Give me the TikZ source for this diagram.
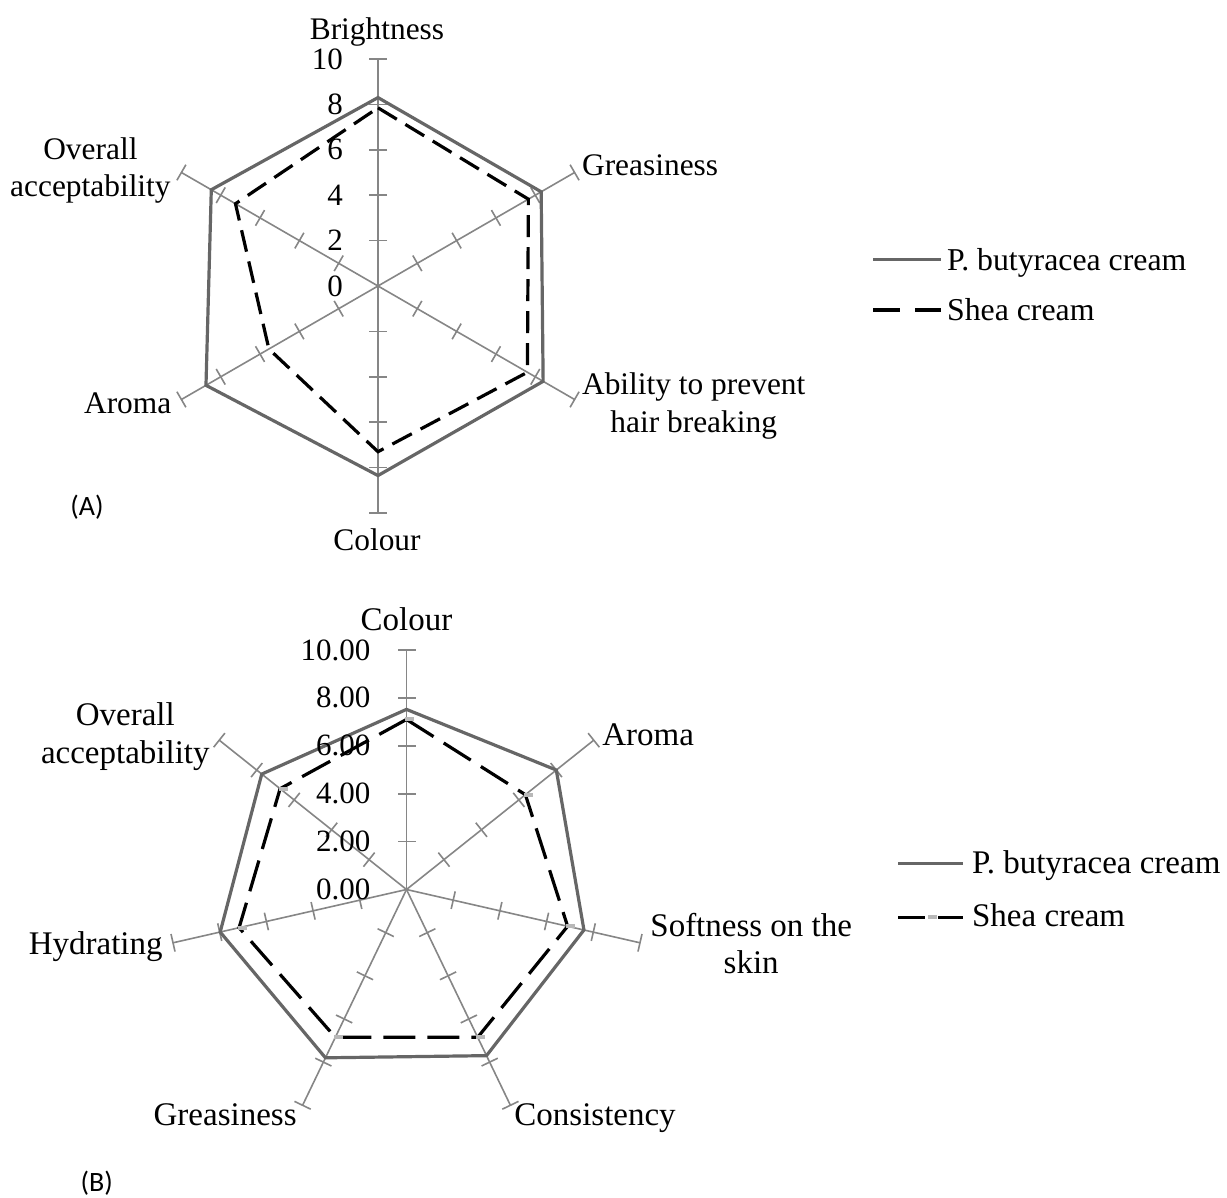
\documentclass[tikz,border=0pt]{standalone}
\usepackage{fontspec}
\setmainfont{Liberation Serif}
\newfontfamily\panelfont{Carlito}
\usepackage{tikz}
\usetikzlibrary{
  positioning,
  calc
}
\definecolor{axisgray}{RGB}{134,134,134}
\definecolor{butygray}{RGB}{102,102,102}
\definecolor{markgray}{RGB}{184,184,184}

\tikzset{
  axisline/.style={draw=axisgray, line width=0.8pt},
  butyline/.style={draw=butygray, line width=1.6pt},
  shealineA/.style={draw=black, line width=1.6pt, dash pattern=on 11pt off 5pt},
  shealineB/.style={draw=black, line width=1.6pt, dash pattern=on 16pt off 6pt},
  catlabel/.style={font=\fontsize{15.7}{18.75}\selectfont, inner sep=0pt, align=center},
  catlabelB/.style={font=\fontsize{16.5}{18.6}\selectfont, inner sep=0pt, align=center},
  ticklabel/.style={font=\fontsize{15.5}{18.75}\selectfont, inner sep=0pt, anchor=east},
  sheamark/.style={fill=markgray, minimum width=4.5pt, minimum height=2pt, inner sep=0pt},
  panellabel/.style={font=\panelfont\fontsize{14}{16}\selectfont, inner sep=0pt}
}

\begin{document}
\begin{tikzpicture}[x=0.5pt, y=-0.5pt]
  \useasboundingbox (0,0) rectangle (1227,1198);

  % (A) hexagonal chart
  \begin{scope}[shift={(378,286)}]
    \foreach \k in {0,...,5}{
      \pgfmathsetmacro{\a}{60*\k-90}
      \draw[axisline] (0,0) -- ({227*cos(\a)},{227*sin(\a)});
      \foreach \v in {2,4,...,10}
        \draw[axisline] ({22.7*\v*cos(\a)-9*sin(\a)},{22.7*\v*sin(\a)+9*cos(\a)})
          -- ({22.7*\v*cos(\a)+9*sin(\a)},{22.7*\v*sin(\a)-9*cos(\a)});
    }
    \foreach \v [count=\k from 0] in {8.3,8.3,8.4,8.35,8.75,8.48}
      \coordinate (pa\k) at ({22.7*\v*cos(60*\k-90)},{22.7*\v*sin(60*\k-90)});
    \foreach \v [count=\k from 0] in {7.85,7.65,7.6,7.3,5.55,7.25}
      \coordinate (sa\k) at ({22.7*\v*cos(60*\k-90)},{22.7*\v*sin(60*\k-90)});
    \draw[butyline] (pa0) -- (pa1) -- (pa2) -- (pa3) -- (pa4) -- (pa5) -- cycle;
    \draw[shealineA] (sa0) -- (sa1) -- (sa2) -- (sa3) -- (sa4) -- (sa5) -- cycle;
    \foreach \v in {0,2,...,10}
      \node[ticklabel] (ta\v) at (-34.7,{-22.7*\v}) {\v};
  \end{scope}

  \node[catlabel, anchor=base] (brightA) at (377,40) {Brightness};
  \node[catlabel, anchor=base west] (greaseA) at (581.7,176) {Greasiness};
  \node[catlabel, anchor=north west] (abilityA) at (581.7,372.6) {Ability to prevent\\hair breaking};
  \node[catlabel, anchor=base] (colourA) at (377,550) {Colour};
  \node[catlabel, anchor=base east] (aromaA) at (171.7,413.3) {Aroma};
  \node[catlabel, anchor=north east] (overallA) at (171,136.9) {Overall\\acceptability};
  \node[panellabel] (panelA) at (87,507) {(A)};

  % legend (A)
  \coordinate (pA1) at (873,259.3);
  \coordinate (pA2) at (940.7,259.3);
  \coordinate (sA1) at (873,310);
  \coordinate (sA2) at (940.7,310);
  \draw[butyline] (pA1) -- (pA2);
  \draw[shealineA, dash pattern=on 13.3pt off 7.7pt] (sA1) -- (sA2);
  \node[catlabel, font=\fontsize{15.9}{18.75}\selectfont, anchor=base west] (legPA) at (946.7,270.5) {P. butyracea cream};
  \node[catlabel, font=\fontsize{15.9}{18.75}\selectfont, anchor=base west] (legSA) at (946.7,320.5) {Shea cream};

  % (B) heptagonal chart
  \begin{scope}[shift={(406.5,889.5)}]
    \foreach \k in {0,...,6}{
      \pgfmathsetmacro{\a}{360/7*\k-90}
      \draw[axisline] (0,0) -- ({239.5*cos(\a)},{239.5*sin(\a)});
      \foreach \v in {2,4,...,10}
        \draw[axisline] ({23.95*\v*cos(\a)-9*sin(\a)},{23.95*\v*sin(\a)+9*cos(\a)})
          -- ({23.95*\v*cos(\a)+9*sin(\a)},{23.95*\v*sin(\a)-9*cos(\a)});
    }
    \foreach \v [count=\k from 0] in {7.52,8.0,7.6,7.7,7.8,7.98,7.73}
      \coordinate (pb\k) at ({23.95*\v*cos(360/7*\k-90)},{23.95*\v*sin(360/7*\k-90)});
    \foreach \v [count=\k from 0] in {7.1,6.35,6.9,6.85,6.85,7.17,6.75}
      \coordinate (sb\k) at ({23.95*\v*cos(360/7*\k-90)},{23.95*\v*sin(360/7*\k-90)});
    \draw[butyline] (pb0) -- (pb1) -- (pb2) -- (pb3) -- (pb4) -- (pb5) -- (pb6) -- cycle;
    \draw[shealineB] (sb0) -- (sb1) -- (sb2) -- (sb3) -- (sb4) -- (sb5) -- (sb6) -- cycle;
    \foreach \k in {0,...,6}
      \node[sheamark, xshift=1.5pt] (sm\k) at (sb\k) {};
    \foreach \v in {0,2,...,10}
      \node[ticklabel] (tb\v) at (-35.8,{-23.95*\v}) {\v.00};
  \end{scope}

  \node[catlabelB, anchor=base] (colourB) at (406.5,630.7) {Colour};
  \node[catlabelB, anchor=base west] (aromaB) at (602,745) {Aroma};
  \node[catlabelB, anchor=north west] (softB) at (650,913) {Softness on the\\skin};
  \node[catlabelB, anchor=base west] (consistB) at (514,1125) {Consistency};
  \node[catlabelB, anchor=base east] (greaseB) at (297,1125) {Greasiness};
  \node[catlabelB, anchor=base east] (hydrB) at (163,954.5) {Hydrating};
  \node[catlabelB, anchor=north east] (overallB) at (210,702.5) {Overall\\acceptability};
  \node[panellabel] (panelB) at (96.7,1183) {(B)};

  % legend (B)
  \coordinate (pB1) at (898,863.3);
  \coordinate (pB2) at (963.3,863.3);
  \coordinate (sB1) at (898,917.3);
  \coordinate (sB2) at (963.3,917.3);
  \draw[butyline] (pB1) -- (pB2);
  \draw[shealineB, dash pattern=on 13.5pt off 6.5pt] (sB1) -- (sB2);
  \node[sheamark] (smleg) at (932.5,917.3) {};
  \node[catlabelB, anchor=base west] (legPB) at (971.7,873.3) {P. butyracea cream};
  \node[catlabelB, anchor=base west] (legSB) at (971.7,926.7) {Shea cream};
\end{tikzpicture}
\end{document}
